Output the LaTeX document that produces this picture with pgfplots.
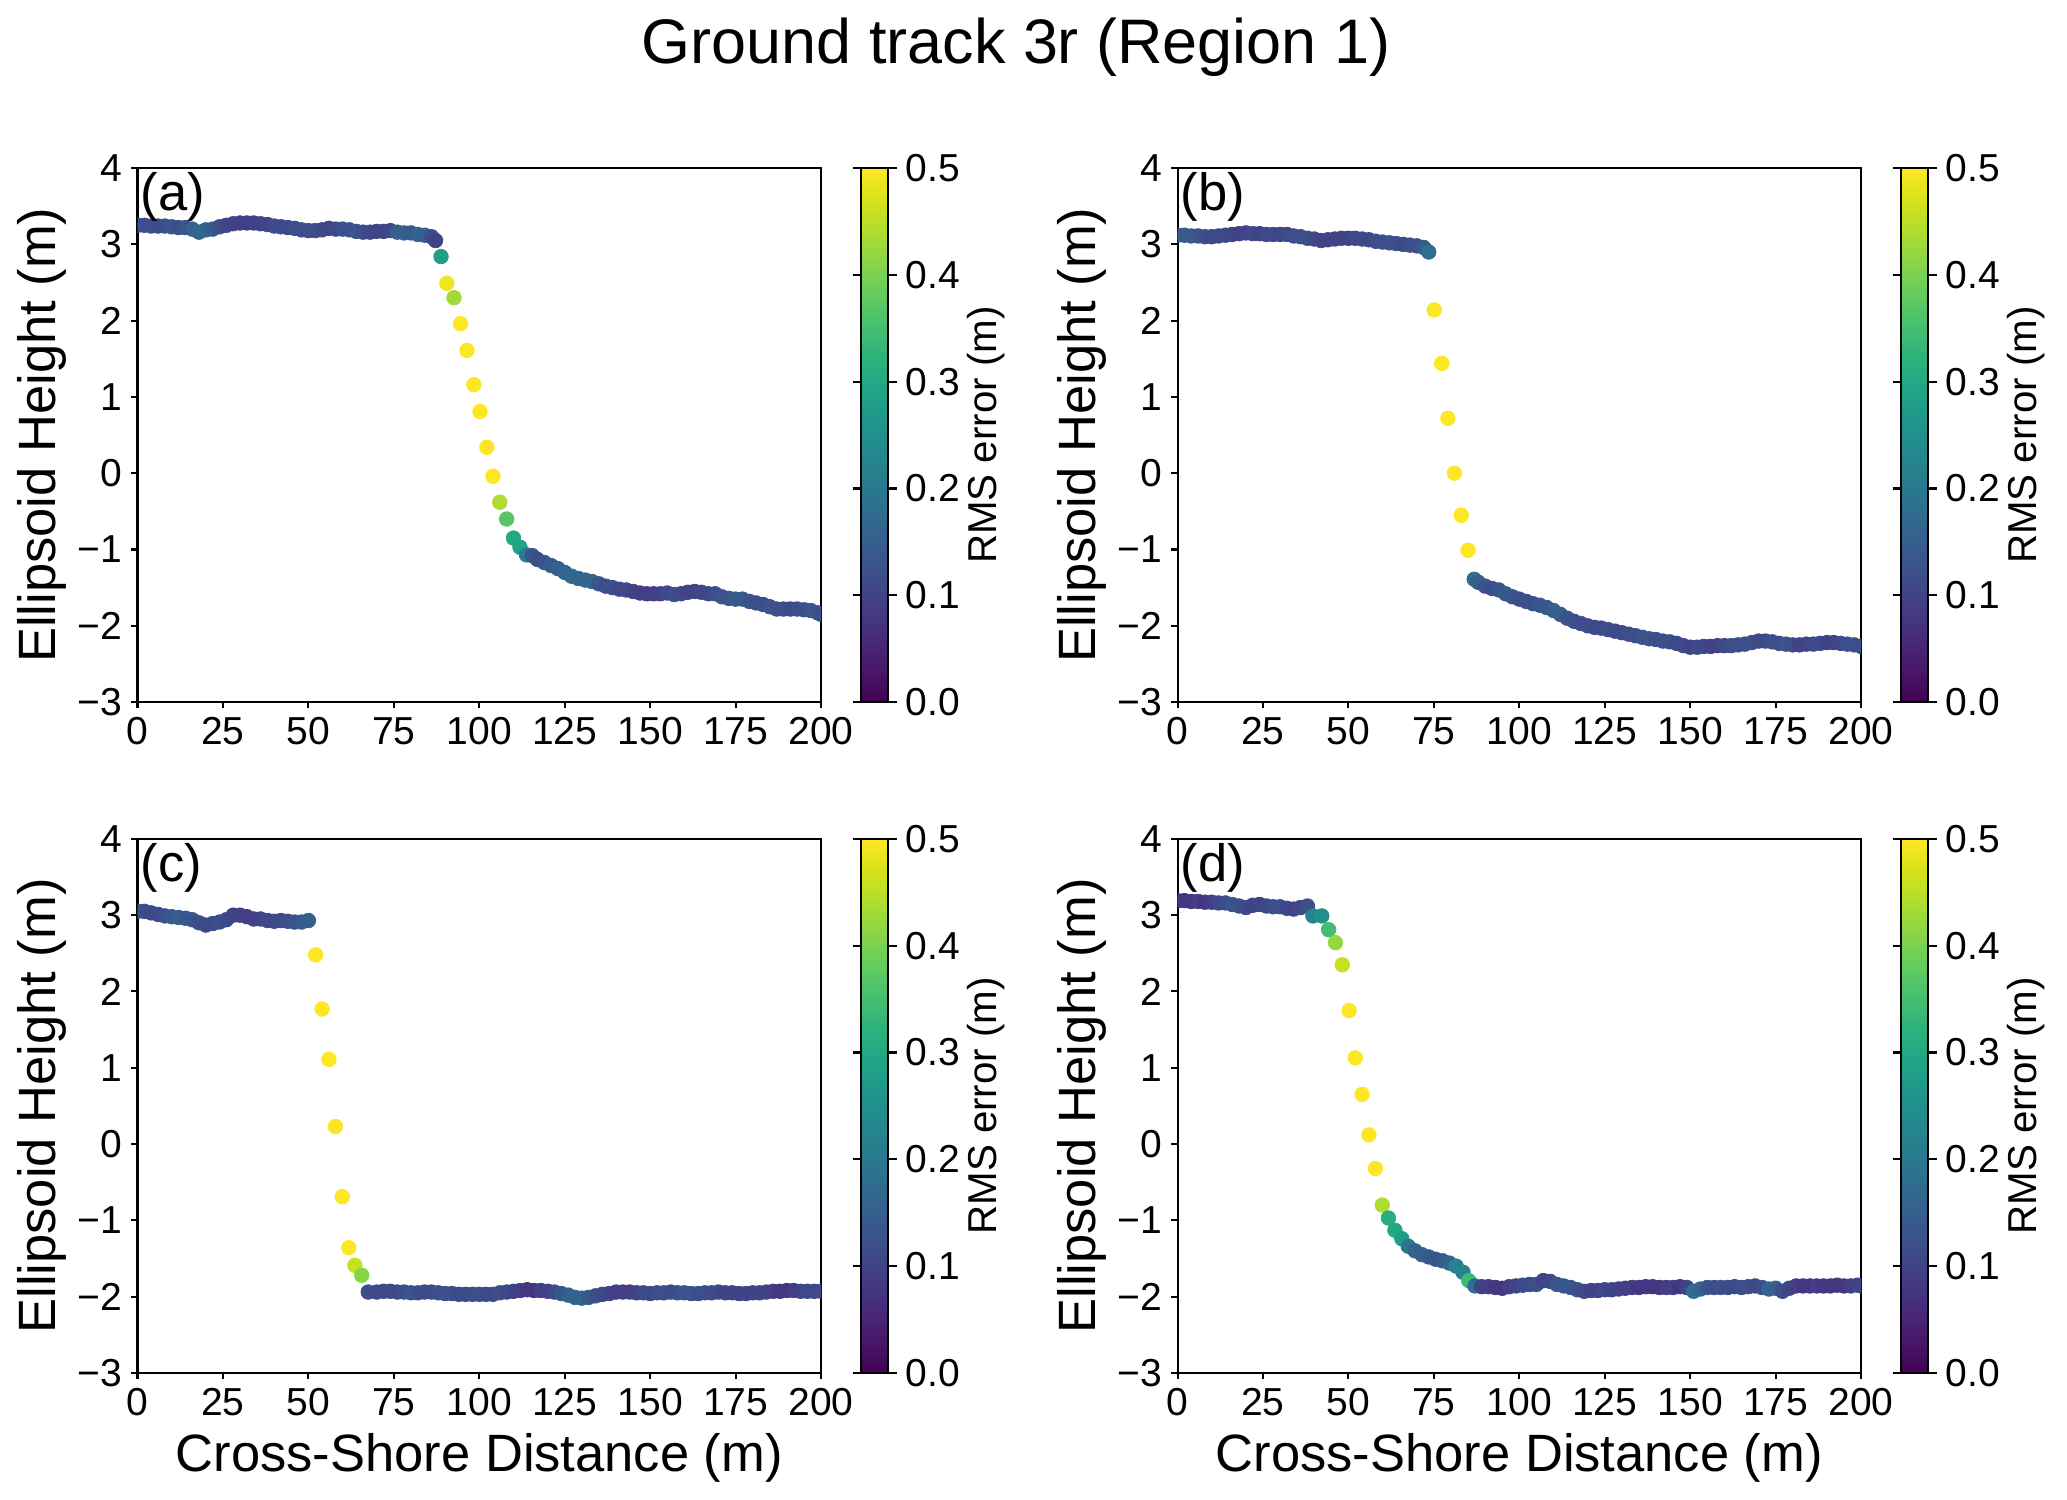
\documentclass[border=0pt]{standalone}
\usepackage{fontspec}
\setmainfont{Liberation Sans}
\usepackage{pgfplots}
\usepackage{pgfplotstable}
\pgfplotsset{compat=1.18}

\pgfplotstableread{
x y c
0 3.25 .12
2 3.25 .12
4 3.24 .12
6 3.24 .11
8 3.24 .12
10 3.23 .13
12 3.22 .12
14 3.22 .13
16 3.20 .15
18 3.16 .16
20 3.19 .16
22 3.20 .14
24 3.23 .12
26 3.25 .11
28 3.27 .10
30 3.28 .09
32 3.28 .09
34 3.28 .09
36 3.27 .10
38 3.26 .10
40 3.24 .11
42 3.23 .11
44 3.22 .11
46 3.21 .12
48 3.19 .12
50 3.18 .12
52 3.18 .12
54 3.19 .11
56 3.21 .10
58 3.20 .11
60 3.20 .12
62 3.19 .12
64 3.17 .13
66 3.16 .12
68 3.16 .11
70 3.17 .10
72 3.17 .10
74 3.18 .11
76 3.16 .15
78 3.15 .15
80 3.15 .14
82 3.13 .16
84 3.12 .15
86 3.10 .12
87.2 3.05 .10
88.8 2.84 .28
90.5 2.49 .49
92.6 2.30 .43
94.5 1.96 .5
96.4 1.61 .5
98.4 1.16 .5
100.2 0.81 .5
102.2 0.34 .5
104.0 -0.04 .5
106.0 -0.38 .44
108.0 -0.60 .37
110.0 -0.85 .30
111.9 -0.97 .29
113.8 -1.07 .21
115.5 -1.08 .13
117 -1.13 .12
119 -1.17 .13
121 -1.21 .14
123 -1.25 .15
125 -1.30 .16
127 -1.35 .17
129 -1.38 .16
131 -1.40 .17
133 -1.42 .16
135 -1.45 .13
137 -1.48 .12
139 -1.50 .12
141 -1.52 .11
143 -1.53 .11
145 -1.55 .10
147 -1.57 .09
149 -1.58 .09
151 -1.58 .09
153 -1.58 .10
155 -1.57 .11
157 -1.59 .12
159 -1.58 .11
161 -1.56 .10
163 -1.55 .10
165 -1.56 .11
167 -1.58 .11
169 -1.58 .12
171 -1.62 .13
173 -1.64 .13
175 -1.65 .14
177 -1.65 .14
179 -1.68 .13
181 -1.70 .12
183 -1.72 .12
185 -1.75 .13
187 -1.78 .12
189 -1.78 .12
191 -1.78 .11
193 -1.78 .12
195 -1.79 .12
197 -1.80 .13
199 -1.83 .13
200 -1.85 .12
}\dataA

\pgfplotstableread{
x y c
0 3.12 .13
2 3.12 .14
4 3.11 .14
6 3.11 .13
8 3.10 .12
10 3.10 .11
12 3.11 .11
14 3.12 .11
16 3.13 .10
18 3.14 .10
20 3.15 .10
22 3.14 .11
24 3.14 .10
26 3.13 .11
28 3.13 .11
30 3.13 .10
32 3.13 .11
34 3.11 .12
36 3.10 .12
38 3.08 .12
40 3.07 .11
42 3.05 .10
44 3.06 .10
46 3.07 .10
48 3.08 .10
50 3.08 .10
52 3.08 .11
54 3.07 .11
56 3.06 .11
58 3.04 .12
60 3.03 .12
62 3.02 .12
64 3.01 .12
66 3.00 .11
68 2.99 .12
70 2.98 .12
72 2.96 .14
73.5 2.90 .18
75.1 2.14 .5
77.3 1.44 .5
79.1 0.72 .5
81.0 0.00 .5
83.0 -0.55 .5
85.0 -1.01 .5
86.8 -1.39 .18
88 -1.43 .15
90 -1.48 .13
92 -1.51 .12
94 -1.53 .13
96 -1.58 .14
98 -1.62 .13
100 -1.65 .12
102 -1.68 .12
104 -1.71 .12
106 -1.73 .13
108 -1.76 .14
110 -1.80 .15
112 -1.85 .15
114 -1.90 .13
116 -1.94 .12
118 -1.97 .12
120 -2.00 .12
122 -2.02 .11
124 -2.03 .11
126 -2.05 .12
128 -2.07 .11
130 -2.09 .11
132 -2.11 .12
134 -2.13 .12
136 -2.15 .13
138 -2.17 .13
140 -2.18 .12
142 -2.20 .12
144 -2.21 .12
146 -2.23 .11
148 -2.26 .11
150 -2.28 .10
152 -2.28 .11
154 -2.27 .11
156 -2.27 .10
158 -2.26 .10
160 -2.26 .11
162 -2.26 .12
164 -2.25 .12
166 -2.24 .12
168 -2.22 .12
170 -2.20 .11
172 -2.20 .11
174 -2.21 .12
176 -2.23 .12
178 -2.24 .13
180 -2.25 .12
182 -2.25 .10
184 -2.24 .10
186 -2.24 .11
188 -2.23 .11
190 -2.22 .10
192 -2.22 .10
194 -2.23 .11
196 -2.24 .12
198 -2.25 .12
200 -2.27 .12
}\dataB

\pgfplotstableread{
x y c
0 3.05 .13
2 3.05 .12
4 3.03 .11
6 3.01 .11
8 2.99 .12
10 2.98 .14
12 2.97 .15
14 2.96 .14
16 2.94 .13
18 2.90 .12
20 2.87 .11
22 2.89 .11
24 2.91 .12
26 2.94 .11
28 3.00 .10
30 3.00 .10
32 2.98 .09
34 2.95 .09
36 2.95 .10
38 2.93 .11
40 2.92 .11
42 2.93 .11
44 2.92 .12
46 2.91 .13
48 2.91 .14
50 2.93 .15
52.1 2.48 .5
54.0 1.77 .5
56.0 1.11 .5
57.9 0.23 .5
59.9 -0.69 .5
61.8 -1.36 .5
63.6 -1.59 .46
65.6 -1.72 .41
67.5 -1.94 .12
70 -1.94 .11
72 -1.93 .11
74 -1.93 .11
76 -1.94 .11
78 -1.94 .12
80 -1.95 .13
82 -1.95 .12
84 -1.94 .11
86 -1.94 .11
88 -1.95 .12
90 -1.96 .12
92 -1.96 .12
94 -1.97 .11
96 -1.97 .11
98 -1.97 .12
100 -1.97 .12
102 -1.97 .11
104 -1.97 .11
106 -1.95 .12
108 -1.94 .11
110 -1.93 .10
112 -1.92 .09
114 -1.91 .08
116 -1.92 .08
118 -1.92 .09
120 -1.93 .10
122 -1.94 .11
124 -1.96 .13
126 -1.98 .15
128 -2.01 .16
130 -2.02 .16
132 -2.01 .14
134 -1.99 .12
136 -1.97 .11
138 -1.96 .10
140 -1.94 .09
142 -1.94 .09
144 -1.94 .09
146 -1.95 .10
148 -1.95 .11
150 -1.96 .11
152 -1.95 .12
154 -1.95 .12
156 -1.94 .11
158 -1.95 .12
160 -1.95 .13
162 -1.96 .13
164 -1.96 .12
166 -1.95 .12
168 -1.95 .11
170 -1.94 .11
172 -1.95 .10
174 -1.95 .10
176 -1.96 .10
178 -1.96 .10
180 -1.95 .10
182 -1.95 .10
184 -1.94 .10
186 -1.93 .09
188 -1.93 .08
190 -1.92 .08
192 -1.92 .09
194 -1.93 .10
196 -1.93 .11
198 -1.93 .11
200 -1.93 .11
}\dataC

\pgfplotstableread{
x y c
0 3.19 .08
2 3.19 .08
4 3.18 .08
6 3.18 .09
8 3.17 .08
10 3.17 .09
12 3.16 .11
14 3.16 .12
16 3.14 .13
18 3.12 .12
20 3.10 .11
22 3.13 .10
24 3.14 .10
26 3.12 .11
28 3.11 .12
30 3.11 .12
32 3.09 .11
34 3.08 .10
36 3.10 .11
38 3.12 .12
39.6 2.99 .22
42.2 2.99 .25
44.2 2.81 .35
46.2 2.64 .42
48.2 2.35 .46
50.2 1.75 .5
52.0 1.13 .5
54.0 0.65 .5
56.0 0.12 .5
57.9 -0.32 .5
59.9 -0.80 .44
61.7 -0.97 .31
63.6 -1.13 .30
65.6 -1.24 .28
67.5 -1.34 .20
69.5 -1.40 .16
71.5 -1.45 .15
73.5 -1.48 .14
75.5 -1.51 .13
77.5 -1.53 .14
79.5 -1.56 .16
81.5 -1.60 .22
83.5 -1.68 .22
85.2 -1.79 .34
87 -1.86 .18
89 -1.87 .10
91 -1.87 .09
93 -1.88 .08
95 -1.89 .08
97 -1.87 .09
99 -1.86 .10
101 -1.85 .11
103 -1.84 .11
105 -1.84 .12
107 -1.79 .10
109 -1.80 .11
111 -1.84 .13
113 -1.86 .14
115 -1.88 .13
117 -1.91 .12
119 -1.93 .11
121 -1.92 .10
123 -1.92 .10
125 -1.91 .11
127 -1.91 .10
129 -1.90 .10
131 -1.89 .09
133 -1.88 .09
135 -1.88 .08
137 -1.87 .08
139 -1.87 .08
141 -1.88 .08
143 -1.88 .09
145 -1.88 .09
147 -1.87 .08
149 -1.88 .10
151 -1.93 .18
153 -1.90 .16
155 -1.88 .13
157 -1.88 .12
159 -1.88 .12
161 -1.88 .11
163 -1.87 .11
165 -1.88 .12
167 -1.87 .12
169 -1.86 .11
171 -1.88 .12
173 -1.90 .16
175 -1.89 .15
177 -1.93 .12
179 -1.89 .10
181 -1.86 .09
183 -1.86 .08
185 -1.86 .08
187 -1.86 .09
189 -1.86 .08
191 -1.86 .08
193 -1.85 .08
195 -1.86 .08
197 -1.86 .09
199 -1.85 .10
200 -1.86 .10
}\dataD

\pgfplotsset{
  every axis/.append style={
    scale only axis,
    axis line style={line width=0.8pt},
    every tick/.style={line width=0.8pt, black},
    tick align=outside,
    major tick length=2.4pt,
    tick label style={font=\fontsize{15}{18}\selectfont},
    label style={font=\fontsize{20.2}{24}\selectfont},
    /pgf/number format/assume math mode=true,
  },
  panel/.style={
    width=262.9pt, height=205.4pt,
    anchor=south west,
    xmin=0, xmax=200, ymin=-3, ymax=4,
    xtick={0,25,...,200},
    ytick={-3,-2,-1,0,1,2,3,4},
    yticklabels={−3,−2,−1,0,1,2,3,4},
    xtick pos=bottom, ytick pos=left,
    ylabel={Ellipsoid Height (m)},
    ylabel style={at={(axis description cs:-0.140,0.5)}, anchor=center},
    xlabel style={at={(axis description cs:0.5,-0.159)}, anchor=center},
    colormap/viridis,
    point meta min=0, point meta max=0.5,
    clip marker paths=true,
    colorbar,
    colorbar style={
      at={(parent axis.north east)}, anchor=north west, xshift=6.9pt,
      width=10.4pt,
      ytick={0,0.1,0.2,0.3,0.4,0.5},
      yticklabels={0.0,0.1,0.2,0.3,0.4,0.5},
      major tick length=3.2pt,
      ylabel={RMS error (m)},
      ylabel style={at={(axis description cs:4.63,0.5)}, anchor=center,
        font=\fontsize{15.5}{18}\selectfont},
    },
  },
  dots/.style={scatter, only marks, mark=*, mark size=2.8pt,
    scatter/use mapped color={draw=mapped color, fill=mapped color},
    mark options={line width=0.3pt}},
}

\begin{document}
\begin{tikzpicture}
\path[use as bounding box] (0,0) rectangle (795pt,576.54pt);
\node[anchor=base, font=\fontsize{24.2}{29}\selectfont] at (390.8pt,552.3pt) {Ground track 3r (Region 1)};

\begin{axis}[panel, at={(52.9pt,306.5pt)}]
\addplot[dots, point meta=\thisrow{c}] table[x=x,y=y] {\dataA};
\node[anchor=north west, inner sep=0pt, font=\fontsize{20.2}{24}\selectfont] at (rel axis cs:0.004,0.993) {(a)};
\end{axis}

\begin{axis}[panel, at={(452.9pt,306.5pt)}]
\addplot[dots, point meta=\thisrow{c}] table[x=x,y=y] {\dataB};
\node[anchor=north west, inner sep=0pt, font=\fontsize{20.2}{24}\selectfont] at (rel axis cs:0.004,0.993) {(b)};
\end{axis}

\begin{axis}[panel, at={(52.9pt,48.5pt)}, xlabel={Cross-Shore Distance (m)}]
\addplot[dots, point meta=\thisrow{c}] table[x=x,y=y] {\dataC};
\node[anchor=north west, inner sep=0pt, font=\fontsize{20.2}{24}\selectfont] at (rel axis cs:0.004,0.993) {(c)};
\end{axis}

\begin{axis}[panel, at={(452.9pt,48.5pt)}, xlabel={Cross-Shore Distance (m)}]
\addplot[dots, point meta=\thisrow{c}] table[x=x,y=y] {\dataD};
\node[anchor=north west, inner sep=0pt, font=\fontsize{20.2}{24}\selectfont] at (rel axis cs:0.004,0.993) {(d)};
\end{axis}
\end{tikzpicture}
\end{document}
